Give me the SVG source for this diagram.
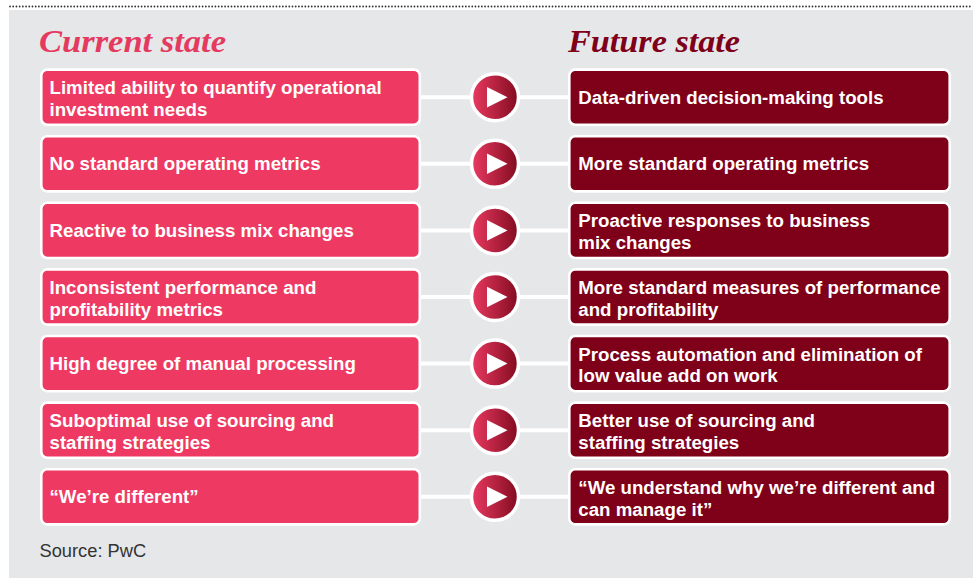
<svg xmlns="http://www.w3.org/2000/svg" width="973" height="578" viewBox="0 0 973 578">
<defs>
<linearGradient id="g" x1="0" y1="0" x2="1" y2="0">
<stop offset="0" stop-color="#EA3A62"/>
<stop offset="1" stop-color="#820B20"/>
</linearGradient>
<style>
.cur{fill:#EE3A62;stroke:#fff;stroke-width:2.6}
.fut{fill:#7F0019;stroke:#fff;stroke-width:2.6}
.t{font-family:"Liberation Sans",Arial,sans-serif;font-weight:bold;font-size:18.7px;fill:#fff}
.h{font-family:"Liberation Serif","Times New Roman",serif;font-weight:bold;font-style:italic;font-size:31px}
.ln{stroke:#fff;stroke-width:4}
.c{fill:url(#g);stroke:#fff;stroke-width:3.5}
.tri{fill:#fff}
</style>
</defs>
<rect width="973" height="578" fill="#fff"/>
<rect x="9" y="10" width="964" height="568" fill="#E6E7E9"/>
<line x1="10" y1="6.5" x2="973" y2="6.5" stroke="#333" stroke-width="1.8" stroke-linecap="round" stroke-dasharray="0.01 3.2"/>
<text class="h" x="39" y="51.7" fill="#E43A60" textLength="187" lengthAdjust="spacingAndGlyphs">Current state</text>
<text class="h" x="568" y="51.7" fill="#7F0019" textLength="172" lengthAdjust="spacingAndGlyphs">Future state</text>
<g id="connectors">
<line class="ln" x1="418" y1="97.2" x2="572" y2="97.2"/>
<line class="ln" x1="418" y1="163.8" x2="572" y2="163.8"/>
<line class="ln" x1="418" y1="230.4" x2="572" y2="230.4"/>
<line class="ln" x1="418" y1="297" x2="572" y2="297"/>
<line class="ln" x1="418" y1="363.6" x2="572" y2="363.6"/>
<line class="ln" x1="418" y1="430.2" x2="572" y2="430.2"/>
<line class="ln" x1="418" y1="496.8" x2="572" y2="496.8"/>
<g id="arrow1"><circle class="c" cx="495" cy="97.2" r="23.5"/><polygon class="tri" points="487,86.9 507.5,97.2 487,107.5"/></g>
<g id="arrow2"><circle class="c" cx="495" cy="163.8" r="23.5"/><polygon class="tri" points="487,153.5 507.5,163.8 487,174.1"/></g>
<g id="arrow3"><circle class="c" cx="495" cy="230.4" r="23.5"/><polygon class="tri" points="487,220.1 507.5,230.4 487,240.7"/></g>
<g id="arrow4"><circle class="c" cx="495" cy="297" r="23.5"/><polygon class="tri" points="487,286.7 507.5,297 487,307.3"/></g>
<g id="arrow5"><circle class="c" cx="495" cy="363.6" r="23.5"/><polygon class="tri" points="487,353.3 507.5,363.6 487,373.9"/></g>
<g id="arrow6"><circle class="c" cx="495" cy="430.2" r="23.5"/><polygon class="tri" points="487,419.9 507.5,430.2 487,440.5"/></g>
<g id="arrow7"><circle class="c" cx="495" cy="496.8" r="23.5"/><polygon class="tri" points="487,486.5 507.5,496.8 487,507.1"/></g>
</g>
<g id="cur1"><rect class="cur" x="41.3" y="69.6" width="378.5" height="55.2" rx="6"/><text class="t" x="49.5" y="94.2">Limited ability to quantify operational</text><text class="t" x="49.5" y="116">investment needs</text></g>
<g id="cur2"><rect class="cur" x="41.3" y="136.2" width="378.5" height="55.2" rx="6"/><text class="t" x="49.5" y="170.3">No standard operating metrics</text></g>
<g id="cur3"><rect class="cur" x="41.3" y="202.8" width="378.5" height="55.2" rx="6"/><text class="t" x="49.5" y="236.9">Reactive to business mix changes</text></g>
<g id="cur4"><rect class="cur" x="41.3" y="269.4" width="378.5" height="55.2" rx="6"/><text class="t" x="49.5" y="294">Inconsistent performance and</text><text class="t" x="49.5" y="315.8">profitability metrics</text></g>
<g id="cur5"><rect class="cur" x="41.3" y="336" width="378.5" height="55.2" rx="6"/><text class="t" x="49.5" y="370.1">High degree of manual processing</text></g>
<g id="cur6"><rect class="cur" x="41.3" y="402.6" width="378.5" height="55.2" rx="6"/><text class="t" x="49.5" y="427.2">Suboptimal use of sourcing and</text><text class="t" x="49.5" y="449">staffing strategies</text></g>
<g id="cur7"><rect class="cur" x="41.3" y="469.2" width="378.5" height="55.2" rx="6"/><text class="t" x="49.5" y="503.3">“We’re different”</text></g>
<g id="fut1"><rect class="fut" x="569.3" y="69.6" width="380.4" height="55.2" rx="6"/><text class="t" x="578.3" y="103.7">Data-driven decision-making tools</text></g>
<g id="fut2"><rect class="fut" x="569.3" y="136.2" width="380.4" height="55.2" rx="6"/><text class="t" x="578.3" y="170.3">More standard operating metrics</text></g>
<g id="fut3"><rect class="fut" x="569.3" y="202.8" width="380.4" height="55.2" rx="6"/><text class="t" x="578.3" y="227.4">Proactive responses to business</text><text class="t" x="578.3" y="249.2">mix changes</text></g>
<g id="fut4"><rect class="fut" x="569.3" y="269.4" width="380.4" height="55.2" rx="6"/><text class="t" x="578.3" y="294">More standard measures of performance</text><text class="t" x="578.3" y="315.8">and profitability</text></g>
<g id="fut5"><rect class="fut" x="569.3" y="336" width="380.4" height="55.2" rx="6"/><text class="t" x="578.3" y="360.6">Process automation and elimination of</text><text class="t" x="578.3" y="382.4">low value add on work</text></g>
<g id="fut6"><rect class="fut" x="569.3" y="402.6" width="380.4" height="55.2" rx="6"/><text class="t" x="578.3" y="427.2">Better use of sourcing and</text><text class="t" x="578.3" y="449">staffing strategies</text></g>
<g id="fut7"><rect class="fut" x="569.3" y="469.2" width="380.4" height="55.2" rx="6"/><text class="t" x="578.3" y="493.8">“We understand why we’re different and</text><text class="t" x="578.3" y="515.6">can manage it”</text></g>
<text x="39.5" y="556.7" font-family="'Liberation Sans',Arial,sans-serif" font-size="18.3" fill="#333">Source: PwC</text>
</svg>
